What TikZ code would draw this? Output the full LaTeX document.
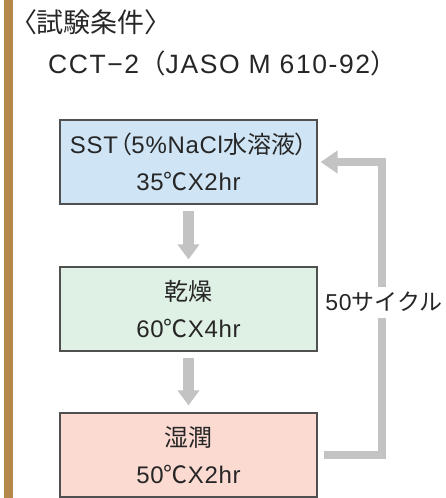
\documentclass[tikz,border=0pt]{standalone}
\usepackage{fontspec}
\setmainfont{Liberation Sans}[LetterSpace=3]
\newfontfamily\latwide{Liberation Sans}[LetterSpace=6]
\newfontfamily\jp{Noto Sans CJK JP}
\newfontfamily\jpp{Noto Sans CJK JP}[RawFeature=+palt]
\usetikzlibrary{arrows.meta}
\definecolor{barbrown}{HTML}{B4874B}
\definecolor{boxblue}{HTML}{CFE4F4}
\definecolor{boxgreen}{HTML}{DFF0E4}
\definecolor{boxpink}{HTML}{FBDAD2}
\definecolor{arrowgray}{HTML}{C3C3C3}
\definecolor{txt}{HTML}{262626}
\definecolor{edge}{HTML}{505050}
\tikzset{
  stepbox/.style={draw=edge, line width=1.2pt, minimum width=257pt, minimum height=84pt,
    align=center, inner sep=0pt, text=txt, font=\fontsize{24}{37}\selectfont},
  downarrow/.style={draw=arrowgray, line width=11pt,
    -{Triangle[length=15pt,width=21pt]}, shorten <=6pt, shorten >=7pt},
  looparrow/.style={draw=arrowgray, line width=8pt, line join=miter,
    -{Triangle[length=17pt,width=22pt]}},
  plain/.style={inner sep=0pt, text=txt}
}
\begin{document}
\begin{tikzpicture}[x=1pt,y=-1pt]
\useasboundingbox (0,0) rectangle (445,498);
\fill[barbrown] (3.5,0) rectangle (13,498);
\node[plain, anchor=west, font=\fontsize{27}{30}\selectfont] (title) at (23,22) {\jpp 〈試験条件〉};
\node[plain, anchor=west, font=\fontsize{26.5}{30}\selectfont] (std) at (48,63) {\latwide CCT−2{\jp （}JASO M 610-92{\jp ）}};
\node[stepbox, fill=boxblue] (b1) at (188.5,162) {SST\kern1.5pt{\jpp （}5\%NaCl{\jpp 水溶液）}\\35{\jpp ℃}X2hr};
\node[stepbox, fill=boxgreen] (b2) at (188.5,309) {{\jpp 乾燥}\\60{\jpp ℃}X4hr};
\node[stepbox, fill=boxpink] (b3) at (188.5,455) {{\jpp 湿潤}\\50{\jpp ℃}X2hr};
\draw[downarrow] (b1.south) -- (b2.north);
\draw[downarrow] (b2.south) -- (b3.north);
\coordinate (loopc) at (381.5,300);
\draw[looparrow] ([xshift=6pt]b3.east) -| (loopc) |- ([xshift=3pt]b1.east);
\node[plain, fill=white, minimum height=31pt, inner xsep=1pt, font=\fontsize{23}{28}\selectfont] (cyc) at (384,302) {50{\jp サイクル}};
\end{tikzpicture}
\end{document}
